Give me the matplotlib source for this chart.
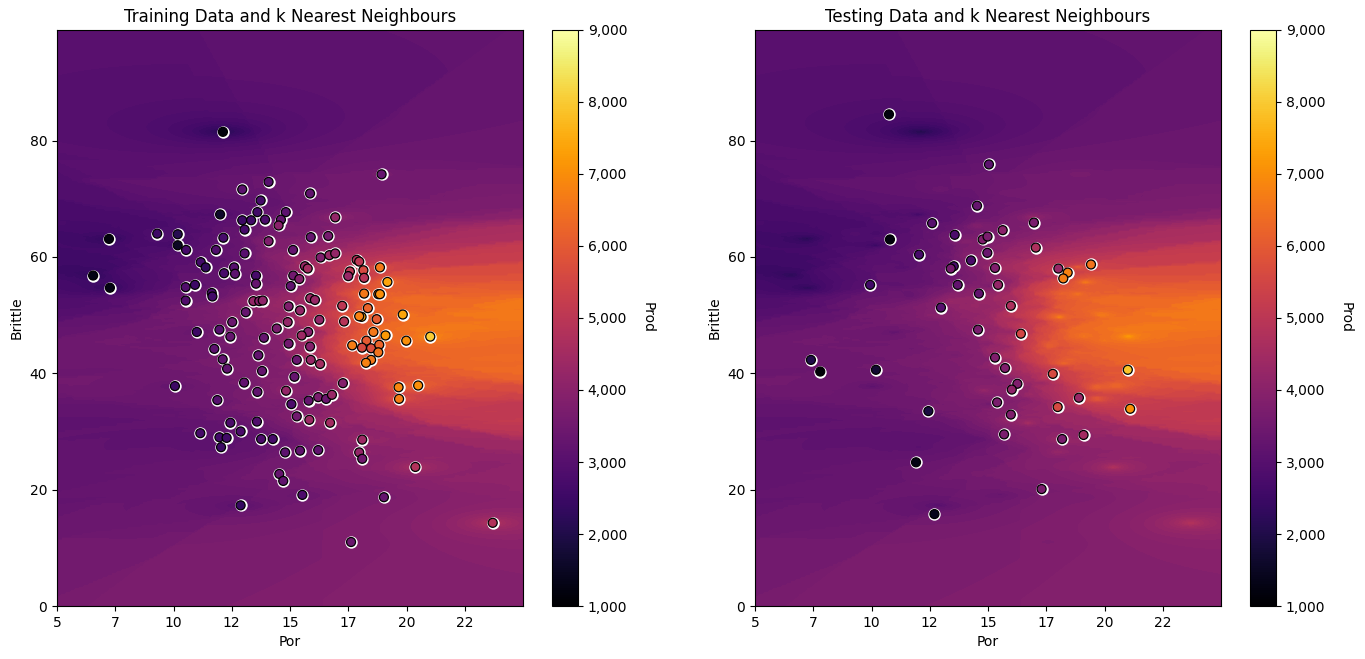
import numpy as np
import matplotlib
matplotlib.use('Agg')
import matplotlib.pyplot as plt
from matplotlib.ticker import FormatStrFormatter, FuncFormatter

# training wells: porosity, brittleness, production
train_por = [7.23, 6.55, 7.27, 9.3, 10.18, 10.18, 10.54, 11.17, 11.38, 10.52,
             10.92, 10.52, 11.64, 11.67, 11.0, 11.82, 12.0, 12.14, 12.95, 14.08,
             13.74, 13.6, 12.95, 13.33, 13.05, 13.93, 14.82, 14.61, 14.51, 14.08,
             15.13, 13.05, 12.17, 12.6, 12.64, 13.54, 13.54, 15.14, 15.03, 13.43,
             13.68, 13.83, 14.94, 13.1, 12.52, 14.9, 14.43, 11.97, 12.44, 13.88,
             14.94, 11.75, 12.11, 12.3, 13.64, 13.8, 15.29, 15.19, 10.06, 13.03,
             13.6, 14.83, 15.06, 11.88, 18.93, 15.86, 16.94, 15.89, 16.64, 16.31,
             16.69, 16.94, 17.86, 17.97, 18.86, 17.57, 17.5, 18.15, 18.18, 19.18,
             15.64, 15.76, 15.4, 18.18, 18.79, 18.86, 17.24, 18.34, 15.87, 16.07,
             15.43, 19.84, 18.07, 17.97, 18.72, 17.32, 16.26, 21.02, 19.1, 19.99,
             18.58, 15.78, 15.5, 15.86, 17.67, 18.28, 18.09, 18.48, 18.83, 18.79,
             18.48, 18.26, 15.89, 16.29, 17.27, 19.66, 19.68, 20.5, 15.8, 16.21,
             16.55, 16.8, 15.29, 15.83, 16.72, 12.44, 13.58, 11.15, 11.97, 12.28,
             12.88, 13.76, 14.26, 12.04, 18.1, 17.97, 18.1, 14.79, 15.43, 16.21,
             14.54, 14.71, 20.38, 15.53, 19.03, 12.88, 23.7, 17.62, 12.12]
train_brittle = [63.1, 56.8, 54.7, 64.0, 63.9, 62.0, 61.2, 59.1, 58.2, 54.8,
                 55.2, 52.5, 53.8, 53.2, 47.1, 61.2, 67.3, 63.3, 71.6, 72.9,
                 69.7, 67.7, 66.3, 66.3, 64.7, 66.4, 67.7, 66.4, 65.4, 62.7,
                 61.2, 60.6, 57.2, 58.2, 57.1, 56.8, 55.4, 56.8, 55.0, 52.4,
                 52.4, 52.5, 51.5, 50.5, 48.8, 48.8, 47.7, 47.5, 46.3, 46.1,
                 45.1, 44.2, 42.4, 40.8, 43.1, 40.4, 42.3, 39.4, 37.8, 38.4,
                 36.8, 37.0, 34.7, 35.4, 74.2, 70.9, 66.8, 63.4, 63.6, 59.9,
                 60.3, 60.6, 59.5, 59.2, 58.2, 57.5, 56.7, 57.7, 56.4, 55.7,
                 58.4, 58.0, 56.2, 53.7, 53.6, 53.6, 51.6, 51.2, 52.9, 52.6,
                 50.8, 50.1, 49.7, 49.8, 49.3, 48.9, 49.2, 46.3, 46.5, 45.6,
                 47.1, 47.1, 46.5, 44.6, 44.8, 45.6, 44.4, 44.3, 44.9, 43.6,
                 42.3, 41.8, 42.3, 41.6, 38.3, 37.6, 35.6, 37.9, 35.3, 35.9,
                 35.6, 36.3, 32.6, 32.0, 31.5, 31.5, 31.7, 29.7, 29.0, 28.9,
                 30.0, 28.7, 28.7, 27.3, 28.6, 26.4, 25.3, 26.4, 26.7, 26.8,
                 22.7, 21.5, 23.9, 19.1, 18.7, 17.3, 14.3, 11.0, 81.5]
train_prod = [1200, 1300, 1300, 2500, 2100, 1500, 2700, 2600, 2300, 2900,
              2500, 2900, 2700, 2600, 2500, 2900, 1600, 2700, 3100, 3000,
              2700, 2600, 2500, 2600, 2700, 2800, 3100, 3300, 4000, 3800,
              3300, 3000, 2700, 3000, 3100, 2700, 3300, 3500, 3200, 4200,
              4000, 4100, 3800, 3300, 3400, 4200, 3700, 3000, 3300, 3300,
              3500, 3100, 3200, 3200, 3200, 3300, 3400, 3300, 2500, 3200,
              3200, 4200, 2800, 3000, 3300, 3200, 4200, 3300, 3600, 3800,
              4300, 4200, 4800, 5000, 6600, 5000, 4300, 5600, 4900, 7400,
              4300, 4500, 3900, 6600, 6800, 7000, 5000, 6200, 4400, 4300,
              4200, 7400, 7500, 6800, 6000, 4900, 4200, 8000, 7200, 7000,
              6600, 3900, 4400, 3900, 6700, 6000, 5600, 5700, 6200, 6500,
              6600, 6800, 4300, 4500, 3900, 6900, 6700, 7000, 3300, 3700,
              3400, 4300, 3500, 4400, 4500, 2800, 2900, 2700, 2600, 2600,
              2800, 2800, 2700, 2500, 4400, 4200, 3500, 3100, 3200, 3200,
              3300, 3200, 4800, 2800, 3300, 2400, 4800, 3400, 1200]

# testing wells
test_por = [10.75, 15.04, 14.53, 12.6, 16.97, 10.79, 13.57, 14.77, 14.98, 15.63,
            17.05, 12.04, 14.27, 14.97, 13.53, 13.4, 15.3, 18.02, 18.42, 18.23,
            19.42, 9.94, 13.7, 15.43, 14.61, 12.98, 15.98, 14.57, 16.41, 7.4,
            7.8, 10.19, 15.3, 15.73, 17.78, 21.0, 16.26, 16.02, 15.39, 18.9,
            17.99, 21.1, 12.44, 15.98, 15.69, 18.18, 19.1, 11.91, 17.3, 12.7]
test_brittle = [84.5, 75.9, 68.8, 65.8, 65.9, 63.0, 63.8, 63.0, 63.5, 64.6,
                61.6, 60.4, 59.4, 60.7, 58.4, 58.0, 58.1, 58.0, 57.3, 56.3,
                58.7, 55.2, 55.2, 55.2, 53.7, 51.3, 51.6, 47.5, 46.8, 42.3,
                40.3, 40.6, 42.7, 40.9, 39.9, 40.6, 38.2, 37.2, 35.0, 35.8,
                34.2, 33.9, 33.5, 32.9, 29.5, 28.7, 29.4, 24.7, 20.1, 15.8]
test_prod = [1200, 3100, 3300, 3000, 3700, 1200, 2800, 3800, 3700, 4000,
             4700, 2700, 2800, 3400, 2700, 3600, 3800, 4300, 6800, 6700,
             6500, 2600, 3200, 4200, 3200, 3000, 4700, 3700, 5500, 2000,
             1100, 1700, 3800, 3800, 5600, 7900, 3800, 4100, 3700, 4300,
             5600, 7000, 1900, 3800, 3700, 3700, 4500, 1300, 3700, 1400]

xmin, xmax = 5.0, 25.0
ymin, ymax = 0.0, 99.0
zmin, zmax = 1000.0, 9000.0
n_neighbors = 10

Xtr = np.column_stack([train_por, train_brittle])
ytr = np.array(train_prod, dtype=float)

# distance weighted k nearest neighbours on a mesh
xx, yy = np.meshgrid(np.linspace(xmin, xmax, 300),
                     np.linspace(ymin, ymax, 300))
grid = np.column_stack([xx.ravel(), yy.ravel()])
d = np.sqrt(((grid[:, None, :] - Xtr[None, :, :]) ** 2).sum(axis=2))
idx = np.argsort(d, axis=1)[:, :n_neighbors]
dk = np.take_along_axis(d, idx, axis=1)
w = 1.0 / np.maximum(dk, 1e-9)
Z = (w * ytr[idx]).sum(axis=1) / w.sum(axis=1)
Z = Z.reshape(xx.shape)

cmap = plt.cm.inferno
fig = plt.figure(figsize=(13.65, 6.59), dpi=100)
W, H = 1365.0, 659.0

def panel(ax_left, cb_left, por, brittle, prod, title):
    ax = fig.add_axes([ax_left / W, 53 / H, 466 / W, 576 / H])
    ax.contourf(xx, yy, Z, cmap=cmap, vmin=0, vmax=10000,
                levels=np.linspace(0, 10000, 100))
    ax.scatter(por, brittle, s=80, c='white', linewidths=0, zorder=3)
    im = ax.scatter(por, brittle, s=42, c=prod, cmap=cmap, vmin=zmin, vmax=zmax,
                    edgecolors='black', linewidths=0.9, zorder=4)
    ax.set_xlim(xmin, xmax)
    ax.set_ylim(ymin, ymax)
    ax.set_xticks(np.arange(5, 25, 2.5))
    ax.xaxis.set_major_formatter(FormatStrFormatter('%d'))
    ax.set_title(title)
    ax.set_xlabel('Por')
    ax.set_ylabel('Brittle')
    cax = fig.add_axes([cb_left / W, 53 / H, 26 / W, 576 / H])
    cbar = fig.colorbar(im, cax=cax, orientation='vertical')
    cbar.set_ticks(np.arange(1000, 9001, 1000))
    cbar.ax.yaxis.set_major_formatter(FuncFormatter(lambda v, p: format(int(v), ',')))
    cbar.set_label('Prod', rotation=270, labelpad=20)
    return ax

panel(57, 552, train_por, train_brittle, train_prod, 'Training Data and k Nearest Neighbours')
panel(755, 1250, test_por, test_brittle, test_prod, 'Testing Data and k Nearest Neighbours')

plt.savefig('out.png', dpi=100)
plt.close()
